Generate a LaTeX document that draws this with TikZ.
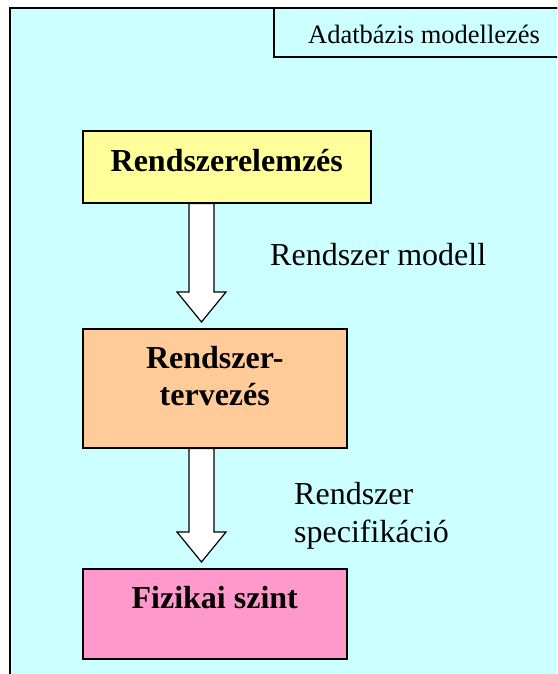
\documentclass[tikz,border=0pt]{standalone}
\usepackage{fontspec}
\setmainfont{Liberation Serif}
\usetikzlibrary{calc}

\definecolor{hatter}{HTML}{CCFFFF}
\definecolor{sarga}{HTML}{FFFF99}
\definecolor{narancs}{HTML}{FFCC99}
\definecolor{rozsaszin}{HTML}{FF99CC}

% block arrow: start point, tip
\newcommand{\blokknyil}[2]{%
  \draw[nyil] ($(#1)+(-12.5,0)$) -- ($(#1)+(12.5,0)$) -- ($(#2)+(12.5,-30)$)
    -- ($(#2)+(24.5,-30)$) -- (#2) -- ($(#2)+(-24.5,-30)$)
    -- ($(#2)+(-12.5,-30)$) -- cycle;}

\begin{document}
\begin{tikzpicture}[x=1pt,y=-1pt,
  doboz/.style={draw,line width=1.5pt,anchor=north west,inner sep=0pt,align=center,
    font=\bfseries\fontsize{32}{37.5}\selectfont},
  felirat/.style={inner sep=0pt,align=left,font=\fontsize{32}{37.5}\selectfont},
  nyil/.style={draw,fill=white,line width=1.2pt,line join=miter}]
  \clip (0,0) rectangle (557,674);
  \useasboundingbox (0,0) rectangle (557,674);
  \fill[white] (0,0) rectangle (557,674);
  \draw[fill=hatter,line width=2pt] (10,8) rectangle (600,700);
  \draw[line width=1.5pt] (274,8) rectangle (600,57);
  \node (cim) [anchor=base west,inner sep=0pt,font=\fontsize{26.5}{30}\selectfont]
    at (308,44) {Adatbázis modellezés};

  \node (elemzes) [doboz,fill=sarga,minimum width=288pt,minimum height=72pt,
    text height=41pt,text depth=31pt] at (82,130) {Rendszerelemzés};
  \node (tervezes) [doboz,fill=narancs,minimum width=264pt,minimum height=119pt,
    text height=77pt,text depth=42pt] at (82,328) {Rendszer-\\tervezés};
  \node (fizikai) [doboz,fill=rozsaszin,minimum width=264pt,minimum height=90pt,
    text height=40pt,text depth=50pt] at (82,568) {Fizikai szint};

  \coordinate (n1) at (201.5,0 |- elemzes.south);
  \coordinate (c1) at ($(201.5,0 |- tervezes.north)+(0,-6)$);
  \coordinate (n2) at (201.5,0 |- tervezes.south);
  \coordinate (c2) at ($(201.5,0 |- fizikai.north)+(0,-6)$);
  \blokknyil{n1}{c1}
  \blokknyil{n2}{c2}

  \node (modell) [felirat,anchor=base west] at (270,265) {Rendszer modell};
  \node (spec) [felirat,anchor=base west] at (294,542) {Rendszer\\specifikáció};
\end{tikzpicture}
\end{document}
